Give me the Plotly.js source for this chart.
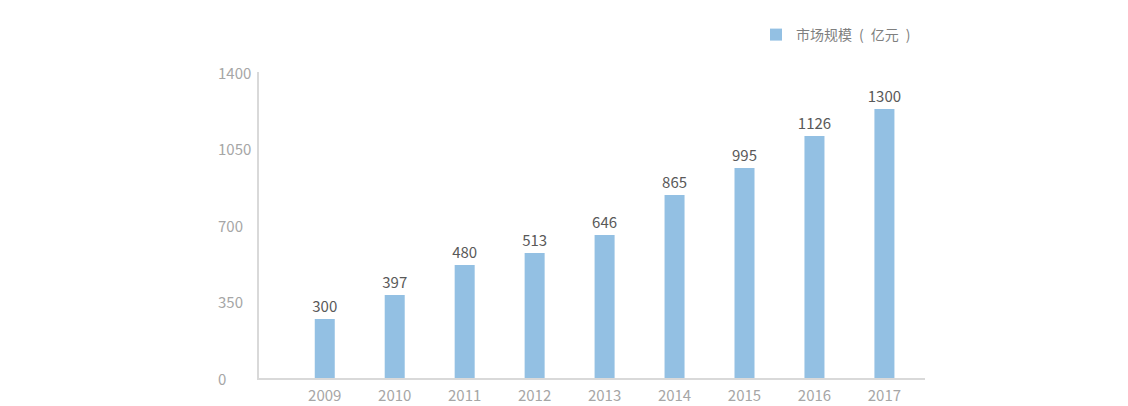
<!DOCTYPE html>
<html>
<head>
<meta charset="utf-8">
<script src="https://cdn.plot.ly/plotly-3.0.1.min.js"></script>
<style>html,body{margin:0;padding:0;background:#fff;}#chart{width:1128px;height:406px;}</style>
</head>
<body>
<div id="chart"></div>
<script>
// Categories (years)
const years = ['2009','2010','2011','2012','2013','2014','2015','2016','2017'];
// Bar heights as drawn in the picture (axis units)
const barHeights = [270, 380, 517, 572, 654, 837, 961, 1107, 1231];
// Data labels printed above the bars
const valueLabels = ['300','397','480','513','646','865','995','1126','1300'];
// Y axis ticks
const yTicks = [0, 350, 700, 1050, 1400];
const yTickText = ['0','350','700','1050','1400'];
const seriesName = '市场规模\u2002(\u2002亿元\u2002)';

const FONT = '"Noto Sans CJK SC", "Open Sans", sans-serif';

const trace = {
  type: 'bar',
  x: years,
  y: barHeights,
  name: seriesName,
  width: 0.286,
  marker: {color: '#93c0e3'},
  text: valueLabels,
  texttemplate: '%{text}',
  textposition: 'outside',
  constraintext: 'none',
  cliponaxis: false,
  textfont: {family: FONT, size: 15, color: '#595959'},
  hoverinfo: 'x+text'
};

const annotations = yTicks.map((v, i) => ({
  xref: 'paper', yref: 'y', x: -0.0646, y: v,
  xanchor: 'left', yanchor: 'middle',
  text: yTickText[i], showarrow: false,
  font: {family: FONT, size: 15, color: '#a6a6a6'}
}));

const layout = {
  width: 1128, height: 406,
  margin: {l: 259, r: 203, t: 72, b: 28, pad: 0},
  paper_bgcolor: '#ffffff', plot_bgcolor: '#ffffff',
  font: {family: FONT},
  showlegend: true,
  legend: {
    xref: 'container', yref: 'container',
    x: 756 / 1128, y: 1 - 35 / 406, xanchor: 'left', yanchor: 'middle',
    orientation: 'h',
    font: {family: FONT, size: 14, color: '#7f7f7f'},
    bgcolor: 'rgba(0,0,0,0)', itemwidth: 30
  },
  xaxis: {
    type: 'category',
    range: [-0.94, 8.58],
    showgrid: false, zeroline: false,
    showline: true, linecolor: '#d9d9d9', linewidth: 2,
    ticks: 'outside', ticklen: 3, tickcolor: 'rgba(0,0,0,0)',
    tickfont: {family: FONT, size: 15, color: '#a6a6a6'},
    fixedrange: true
  },
  yaxis: {
    range: [0, 1400],
    showgrid: false, zeroline: false,
    showline: true, linecolor: '#d9d9d9', linewidth: 2,
    tickvals: yTicks, showticklabels: false, ticks: '',
    fixedrange: true
  },
  annotations: annotations
};

Plotly.newPlot('chart', [trace], layout, {displayModeBar: false, staticPlot: true});
</script>
</body>
</html>
